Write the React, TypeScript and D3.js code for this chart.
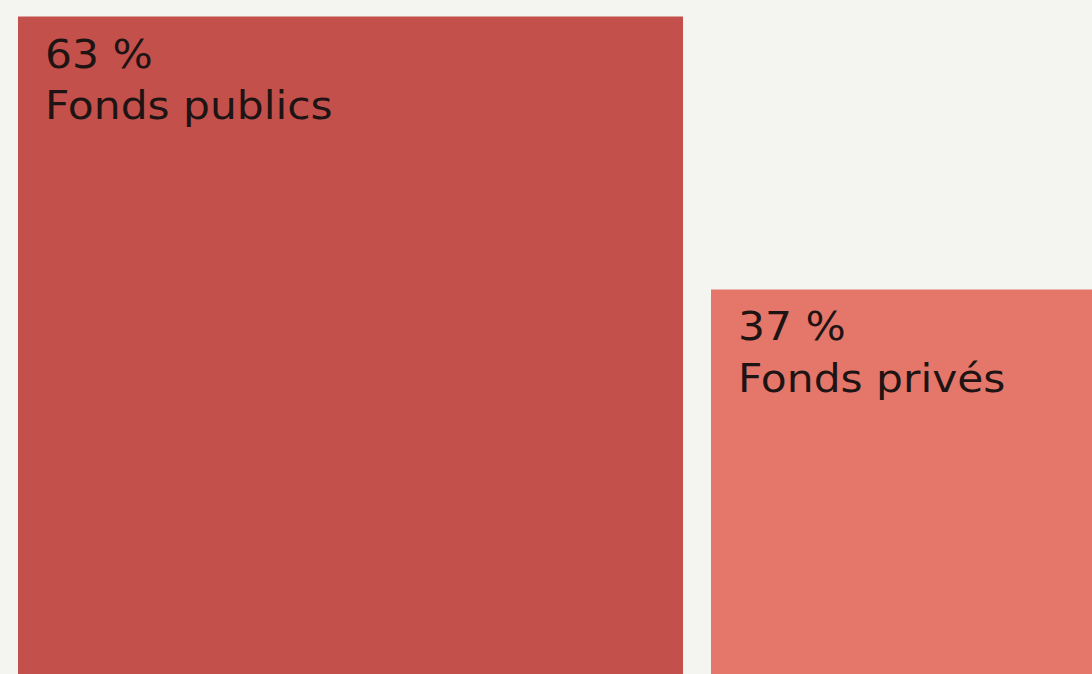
import React from "react";
import * as d3 from "d3";

const categories = ["Fonds publics", "Fonds privés"];
const values = [63, 37];
const valueLabels = ["63 %", "37 %"];
const colors = ["#c4504b", "#e5776a"];

const W = 1092;
const H = 674;

export default function App() {
  const left = 18;
  const gap = 28;
  const baseY = 678;
  const w = d3.scaleLinear().domain([0, 63]).range([0, 665]);
  const h = d3.scaleLinear().domain([0, 63]).range([0, 661.5]);

  let x = left;
  const boxes = values.map((v, i) => {
    const bx = x;
    const bw = w(v);
    x += bw + gap;
    const bh = h(v);
    return { x: bx, y: baseY - bh, w: bw, h: bh, v, i };
  });

  const textOffsets = [51, 50.5];

  return (
    <svg
      width={W}
      height={H}
      style={{ position: "fixed", left: 0, top: 0, display: "block" }}
      fontFamily="DejaVu Sans, sans-serif"
    >
      <rect x={0} y={0} width={W} height={H} fill="#f4f4f0" />
      {boxes.map((b) => (
        <g key={b.i}>
          <rect x={b.x} y={b.y} width={b.w} height={b.h} fill={colors[b.i]} />
          <g transform={`translate(${b.x + 27},${b.y + textOffsets[b.i]}) scale(1.087,1)`}>
            <text x={0} y={0} fontSize={39} fill="#1e1414">
              {valueLabels[b.i]}
            </text>
            <text x={0} y={52} fontSize={39} fill="#1e1414">
              {categories[b.i]}
            </text>
          </g>
        </g>
      ))}
    </svg>
  );
}
